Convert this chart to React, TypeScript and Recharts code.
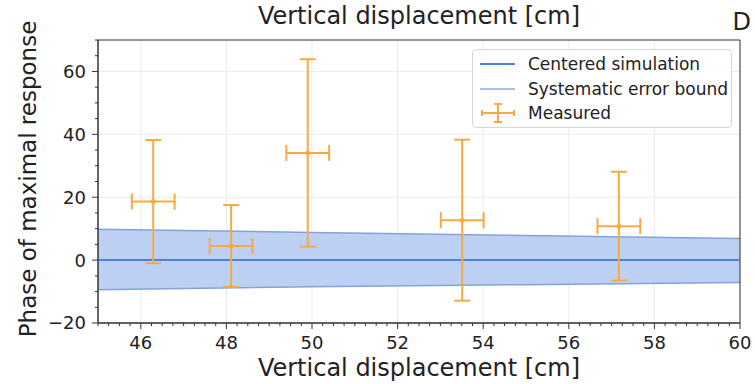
import React from "react";
import {
  ComposedChart,
  Area,
  Line,
  Scatter,
  ErrorBar,
  XAxis,
  YAxis,
  CartesianGrid,
  ReferenceArea,
} from "recharts";

// band of the simulation (systematic error bound)
const bandX = [45, 50, 55, 60];
const bandUpper = [9.8, 8.8, 7.8, 6.9];
const bandLower = [-9.4, -8.5, -7.8, -7.1];
const bandCenter = [0, 0, 0, 0];

// measured points
const measX = [46.29, 48.11, 49.9, 53.51, 57.17];
const measY = [18.6, 4.5, 34.1, 12.7, 10.8];
const measXErr = [0.5, 0.5, 0.5, 0.5, 0.5];
const measYErr = [19.6, 13.0, 29.8, 25.6, 17.3];

const xMajor = [46, 48, 50, 52, 54, 56, 58, 60];
const yMajor = [-20, 0, 20, 40, 60];

const xMinor: number[] = [];
for (let v = 45; v <= 60.001; v += 0.25) xMinor.push(Math.round(v * 100) / 100);
const yMinor: number[] = [];
for (let v = -20; v <= 70; v += 5) yMinor.push(v);

const bandData = bandX.map((x, i) => ({
  x,
  range: [bandLower[i], bandUpper[i]],
  center: bandCenter[i],
}));

const measData = measX.map((x, i) => ({
  x,
  y: measY[i],
  xErr: measXErr[i],
  yErr: measYErr[i],
}));

const colors = {
  center: "#4d82db",
  bandFill: "#bcd0f3",
  bandEdge: "#84a3d8",
  measured: "#f7aa40",
  axis: "#333333",
  grid: "#ebebeb",
};

const FONT = "'DejaVu Sans', sans-serif";

const XTick = (props: any) => {
  const { x, y, payload } = props;
  const major = xMajor.includes(payload.value);
  const len = major ? 6 : 3;
  return (
    <g>
      <line x1={x} x2={x} y1={y} y2={y + len} stroke={colors.axis} strokeWidth={1} />
      {major && (
        <text x={x} y={y + 12} dy="0.8em" textAnchor="middle" fontSize={18} fill="#222" fontFamily={FONT}>
          {payload.value}
        </text>
      )}
    </g>
  );
};

const YTick = (props: any) => {
  const { x, y, payload } = props;
  const major = yMajor.includes(payload.value);
  const len = major ? 6 : 3;
  return (
    <g>
      <line x1={x} x2={x - len} y1={y} y2={y} stroke={colors.axis} strokeWidth={1} />
      {major && (
        <text x={x - 12} y={y} dy="0.36em" textAnchor="end" fontSize={18} fill="#222" fontFamily={FONT}>
          {payload.value === -20 ? "\u221220" : payload.value}
        </text>
      )}
    </g>
  );
};

const Dot = (props: any) => <circle cx={props.cx} cy={props.cy} r={2.5} fill={colors.measured} />;

export default function App() {
  return (
    <div style={{ position: "relative", width: 755, height: 384, fontFamily: FONT, color: "#222" }}>
      <style>{`body{margin:0}`}</style>
      <ComposedChart
        width={755}
        height={384}
        data={bandData}
        margin={{ top: 40, right: 15, bottom: 1, left: 38 }}
      >
        <CartesianGrid
          stroke={colors.grid}
          horizontalValues={yMajor}
          verticalValues={xMajor}
          syncWithTicks={false}
        />
        <XAxis
          type="number"
          dataKey="x"
          domain={[45, 60]}
          ticks={xMinor}
          interval={0}
          tickLine={false}
          tickSize={0}
          tickMargin={0}
          tick={<XTick />}
          height={60}
          axisLine={{ stroke: colors.axis }}
          allowDataOverflow
        />
        <YAxis
          type="number"
          domain={[-20, 70]}
          ticks={yMinor}
          interval={0}
          tickLine={false}
          tickSize={0}
          tickMargin={0}
          tick={<YTick />}
          width={60}
          axisLine={{ stroke: colors.axis }}
          allowDataOverflow
        />
        <Area
          type="linear"
          dataKey="range"
          fill={colors.bandFill}
          fillOpacity={1}
          stroke={colors.bandEdge}
          strokeWidth={1.5}
          isAnimationActive={false}
        />
        <Line
          type="linear"
          dataKey="center"
          stroke={colors.center}
          strokeWidth={2}
          dot={false}
          isAnimationActive={false}
        />
        <Scatter data={measData} dataKey="y" fill={colors.measured} shape={<Dot />} isAnimationActive={false}>
          <ErrorBar dataKey="yErr" direction="y" width={8} strokeWidth={2} stroke={colors.measured} />
          <ErrorBar dataKey="xErr" direction="x" width={8} strokeWidth={2} stroke={colors.measured} />
        </Scatter>
        <ReferenceArea x1={45} x2={60} y1={-20} y2={70} fill="none" stroke={colors.axis} strokeWidth={1} />
      </ComposedChart>

      {/* title */}
      <div style={{ position: "absolute", left: 98, width: 642, top: 4, textAlign: "center", fontSize: 24, lineHeight: "24px" }}>
        Vertical displacement [cm]
      </div>
      <div style={{ position: "absolute", right: 4, top: 10, fontSize: 24, lineHeight: "24px" }}>D</div>

      {/* axis labels */}
      <div style={{ position: "absolute", left: 98, width: 642, top: 356, textAlign: "center", fontSize: 24, lineHeight: "24px" }}>
        Vertical displacement [cm]
      </div>
      <div
        style={{
          position: "absolute",
          left: 28,
          top: 179,
          transform: "translate(-50%, -50%) rotate(-90deg)",
          whiteSpace: "nowrap",
          fontSize: 23,
          lineHeight: "24px",
        }}
      >
        Phase of maximal response
      </div>

      {/* legend */}
      <div
        style={{
          position: "absolute",
          left: 472,
          top: 49,
          width: 260,
          height: 79,
          border: "1px solid #d6d6d6",
          borderRadius: 4,
          background: "rgba(255,255,255,0.85)",
          fontSize: 17,
          boxSizing: "border-box",
        }}
      >
        {[
          { label: "Centered simulation", kind: "center" },
          { label: "Systematic error bound", kind: "band" },
          { label: "Measured", kind: "meas" },
        ].map((e, i) => (
          <div key={i} style={{ position: "absolute", left: 5, top: 3 + i * 24.5, height: 22, display: "flex", alignItems: "center" }}>
            <svg width={40} height={22}>
              {e.kind === "center" && <line x1={2} x2={37} y1={11} y2={11} stroke={colors.center} strokeWidth={2} />}
              {e.kind === "band" && <line x1={2} x2={37} y1={11} y2={11} stroke="#a8bfe6" strokeWidth={2} />}
              {e.kind === "meas" && (
                <g stroke={colors.measured} strokeWidth={2}>
                  <line x1={4} x2={36} y1={11} y2={11} />
                  <line x1={20} x2={20} y1={2} y2={20} />
                  <line x1={16} x2={24} y1={2} y2={2} />
                  <line x1={16} x2={24} y1={20} y2={20} />
                  <line x1={4} x2={4} y1={8} y2={14} />
                  <line x1={36} x2={36} y1={8} y2={14} />
                </g>
              )}
            </svg>
            <span style={{ marginLeft: 10 }}>{e.label}</span>
          </div>
        ))}
      </div>
    </div>
  );
}
